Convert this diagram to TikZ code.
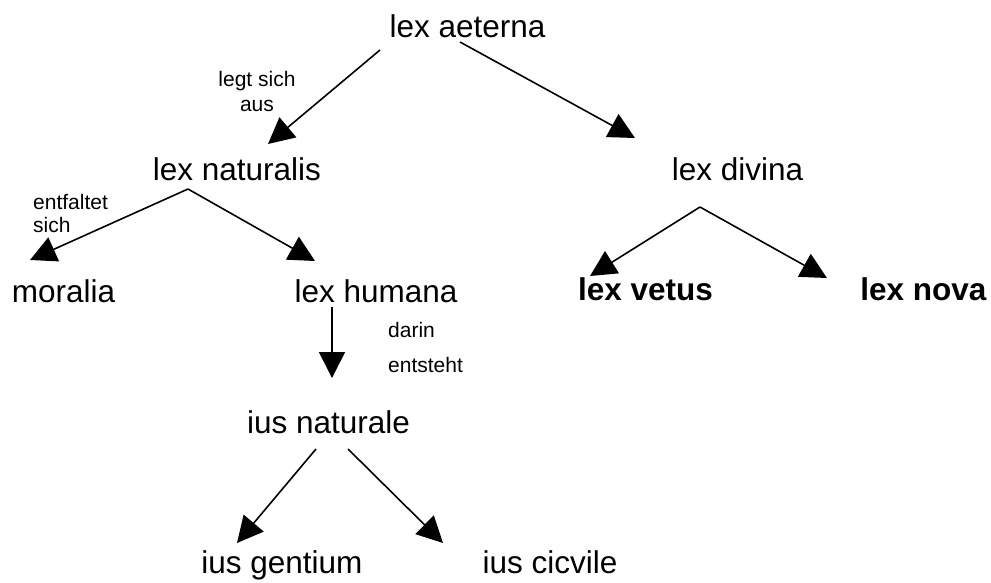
\documentclass[tikz,border=0pt]{standalone}
\usepackage{fontspec}
\setmainfont{Liberation Sans}
\usetikzlibrary{arrows.meta,calc}
\tikzset{
  every picture/.style = {
    x=1pt, y=-1pt
  },
  lex/.style={
    anchor = base,
    inner sep = 0pt,
    font = \fontsize{31.5}{36}\selectfont
  },
  lexbf/.style={
    lex,
    font = \fontsize{31.5}{36}\selectfont\bfseries
  },
  verb/.style={
    inner sep = 0pt,
    font = \fontsize{21}{25}\selectfont
  },
  pfeil/.style={
    line width = 1.6pt,
    -{Triangle[length=26pt,width=26pt]}
  }
}
\begin{document}
\begin{tikzpicture}
        \useasboundingbox (0,0) rectangle (991,582);
        % Stufen der Gesetze
        \node[lex] (aeterna) at (467.5,37) {lex aeterna};
        \node[lex] (naturalis) at (237,180) {lex naturalis};
        \node[lex] (divina) at (737.5,180) {lex divina};
        \node[lex] (moralia) at (63.5,302) {moralia};
        \node[lex] (humana) at (376,302) {lex humana};
        \node[lexbf] (vetus) at (645.5,300) {lex vetus};
        \node[lexbf] (nova) at (923.5,300) {lex nova};
        \node[lex] (iusnat) at (328.5,433) {ius naturale};
        \node[lex] (gentium) at (282,573) {ius gentium};
        \node[lex] (cicvile) at (550,573) {ius cicvile};
        % Beschriftungen
        \node[verb, anchor=north, align=center] (legt) at (257,71) {legt sich\\aus};
        \node[verb, anchor=north west, align=left] (entf) at (33,194) {entfaltet\\[-2pt]sich};
        \node[verb, anchor=north west, align=left] (darin) at (388,322) {darin\\[10pt]entsteht};
        % Pfeile
        \draw[pfeil] ($(aeterna.base)+(-87.5,13)$) -- ($(naturalis.base)+(31,-36)$);
        \draw[pfeil] ($(aeterna.base)+(-7.5,5)$) -- ($(divina.base)+(-102.5,-42)$);
        \draw[pfeil] ($(naturalis.base)+(-49,9)$) -- ($(moralia.base)+(-33.5,-42)$);
        \draw[pfeil] ($(naturalis.base)+(-49,9)$) -- ($(humana.base)+(-61,-41)$);
        \draw[pfeil] ($(divina.base)+(-37.5,27)$) -- ($(vetus.base)+(-55.5,-24)$);
        \draw[pfeil] ($(divina.base)+(-37.5,27)$) -- ($(nova.base)+(-96.5,-22)$);
        \draw[pfeil] ($(humana.base)+(-44,5)$) -- ($(iusnat.base)+(3.5,-55)$);
        \draw[pfeil] ($(iusnat.base)+(-12.5,16)$) -- ($(gentium.base)+(-45,-30)$);
        \draw[pfeil] ($(iusnat.base)+(19.5,16)$) -- ($(cicvile.base)+(-107,-30)$);
\end{tikzpicture}
\end{document}
